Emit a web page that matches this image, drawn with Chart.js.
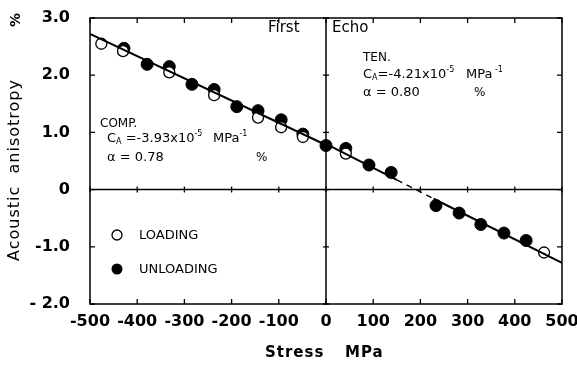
<!DOCTYPE html>
<html>
<head>
<meta charset="utf-8">
<script src="https://cdn.jsdelivr.net/npm/chart.js@4.4.1/dist/chart.umd.min.js"></script>
<style>
  html, body { margin: 0; padding: 0; background: #fff; }
  #wrap { width: 577px; height: 365px; position: relative; }
</style>
</head>
<body>
<div id="wrap"><canvas id="anisoChart"></canvas></div>
<script>
// values (stress in MPa, anisotropy in %)
const loadingStress = [-476, -430, -332, -237, -144, -95, -49, 42, 462];
const loadingAniso  = [2.55, 2.42, 2.05, 1.65, 1.26, 1.09, 0.92, 0.63, -1.10];

const unloadingStress = [-428, -379, -332, -284, -237, -189, -144, -95, -49, 0, 42, 91, 138, 233, 282, 328, 377, 424];
const unloadingAniso  = [2.47, 2.19, 2.15, 1.84, 1.75, 1.45, 1.38, 1.22, 0.97, 0.77, 0.72, 0.43, 0.30, -0.28, -0.41, -0.61, -0.76, -0.89];

// fitted lines
const compFitStress = [-500, 0];
const compFitAniso  = [2.72, 0.78];
const tenFitStress  = [0, 150];
const tenFitAniso   = [0.80, 0.17];
const tenDashStress = [150, 228];
const tenDashAniso  = [0.17, -0.16];
const tenFit2Stress = [228, 500];
const tenFit2Aniso  = [-0.16, -1.28];

const xTickValues = [-500, -400, -300, -200, -100, 0, 100, 200, 300, 400, 500];
const yTickValues = [3, 2, 1, 0, -1, -2];
const yTickLabels = ['3.0', '2.0', '1.0', '0', '-1.0', '- 2.0'];

const pts = (xs, ys) => xs.map((x, i) => ({ x: x, y: ys[i] }));

const FONT = '"DejaVu Sans", sans-serif';

function runs(ctx, x, y, parts) {
    parts.forEach(p => {
        if (p.at !== undefined) x = p.at;
        ctx.font = p.size + 'px ' + FONT;
        ctx.fillText(p.t, x, y + (p.dy || 0));
        x += ctx.measureText(p.t).width;
    });
}

const framePlugin = {
    id: 'frame',
    beforeDatasetsDraw(chart) {
        const { ctx, chartArea: a, scales: { x, y } } = chart;
        const x0 = x.getPixelForValue(0);
        const y0 = y.getPixelForValue(0);
        ctx.save();
        ctx.strokeStyle = '#000';
        ctx.lineWidth = 1.5;
        ctx.strokeRect(a.left, a.top, a.right - a.left, a.bottom - a.top);
        ctx.beginPath();
        ctx.moveTo(a.left, y0); ctx.lineTo(a.right, y0);
        ctx.moveTo(x0, a.top); ctx.lineTo(x0, a.bottom);
        ctx.stroke();

        const t = 5;
        ctx.lineWidth = 1.3;
        ctx.beginPath();
        xTickValues.forEach(v => {
            const px = x.getPixelForValue(v);
            ctx.moveTo(px, a.top); ctx.lineTo(px, a.top + t);
            ctx.moveTo(px, a.bottom); ctx.lineTo(px, a.bottom - t);
            ctx.moveTo(px, y0 - 3); ctx.lineTo(px, y0 + 3);
        });
        yTickValues.forEach(v => {
            const py = y.getPixelForValue(v);
            ctx.moveTo(a.left, py); ctx.lineTo(a.left + t, py);
            ctx.moveTo(a.right, py); ctx.lineTo(a.right - t, py);
            ctx.moveTo(x0 - 3, py); ctx.lineTo(x0 + 3, py);
        });
        ctx.stroke();
        ctx.restore();
    },
    afterDraw(chart) {
        const { ctx } = chart;
        ctx.save();
        ctx.fillStyle = '#000';
        ctx.textBaseline = 'middle';

        // axis titles
        ctx.textAlign = 'left';
        ctx.font = 'bold 15px ' + FONT;
        ctx.letterSpacing = '1px';
        ctx.fillText('Stress', 265, 353);
        ctx.fillText('MPa', 345, 353);
        ctx.textAlign = 'center';
        ctx.font = '16px ' + FONT;
        ctx.save();
        ctx.translate(15, 170);
        ctx.rotate(-Math.PI / 2);
        ctx.fillText('Acoustic  anisotropy', 0, 0);
        ctx.restore();
        ctx.letterSpacing = '0px';
        ctx.save();
        ctx.translate(16, 20);
        ctx.rotate(-Math.PI / 2);
        ctx.font = 'bold 14px ' + FONT;
        ctx.fillText('%', 0, 0);
        ctx.restore();

        ctx.textAlign = 'left';
        ctx.font = '15px ' + FONT;
        ctx.fillText('First', 268, 28);
        ctx.fillText('Echo', 332, 28);

        runs(ctx, 363, 58, [{ t: 'TEN.', size: 12 }]);
        runs(ctx, 363, 75, [
            { t: 'C', size: 13 }, { t: 'A', size: 8, dy: 3 },
            { t: '=-4.21x10', size: 13 }, { t: '-5', size: 8, dy: -5 },
            { t: 'MPa', size: 13, at: 466 }, { t: ' -1', size: 8, dy: -5 }
        ]);
        runs(ctx, 363, 93, [{ t: '\u03b1 = 0.80', size: 13 }, { t: '%', size: 12, at: 474 }]);

        runs(ctx, 100, 124, [{ t: 'COMP.', size: 12 }]);
        runs(ctx, 107, 139, [
            { t: 'C', size: 13 }, { t: 'A', size: 8, dy: 3 },
            { t: ' =-3.93x10', size: 13 }, { t: '-5', size: 8, dy: -5 },
            { t: 'MPa', size: 13, at: 213 }, { t: '-1', size: 8, dy: -5 }
        ]);
        runs(ctx, 107, 158, [{ t: '\u03b1 = 0.78', size: 13 }, { t: '%', size: 12, at: 256 }]);

        // legend
        ctx.lineWidth = 1.3;
        ctx.strokeStyle = '#000';
        ctx.beginPath();
        ctx.arc(117, 235, 5, 0, Math.PI * 2);
        ctx.fillStyle = '#fff';
        ctx.fill();
        ctx.stroke();
        ctx.beginPath();
        ctx.arc(117, 269, 5.5, 0, Math.PI * 2);
        ctx.fillStyle = '#000';
        ctx.fill();
        ctx.font = '13px ' + FONT;
        ctx.fillText('LOADING', 139, 236);
        ctx.fillText('UNLOADING', 139, 270);
        ctx.restore();
    }
};

const lineStyle = {
    showLine: true,
    borderColor: '#000',
    borderWidth: 2,
    pointRadius: 0,
    fill: false
};

const ctx = document.getElementById('anisoChart').getContext('2d');

new Chart(ctx, {
    type: 'scatter',
    data: {
        datasets: [
            Object.assign({ data: pts(compFitStress, compFitAniso) }, lineStyle),
            Object.assign({ data: pts(tenFitStress, tenFitAniso) }, lineStyle),
            Object.assign({ data: pts(tenDashStress, tenDashAniso) }, lineStyle, { borderDash: [6, 5], borderWidth: 1.5 }),
            Object.assign({ data: pts(tenFit2Stress, tenFit2Aniso) }, lineStyle),
            {
                label: 'LOADING',
                data: pts(loadingStress, loadingAniso),
                pointRadius: 5.5,
                pointBackgroundColor: '#fff',
                pointBorderColor: '#000',
                pointBorderWidth: 1.3
            },
            {
                label: 'UNLOADING',
                data: pts(unloadingStress, unloadingAniso),
                pointRadius: 6,
                pointBackgroundColor: '#000',
                pointBorderColor: '#000',
                pointBorderWidth: 1
            }
        ]
    },
    options: {
        responsive: true,
        maintainAspectRatio: false,
        animation: false,
        devicePixelRatio: 1,
        layout: { padding: { top: 18, right: 15, left: 0, bottom: 0 } },
        plugins: {
            legend: { display: false },
            tooltip: { enabled: false }
        },
        scales: {
            x: {
                type: 'linear',
                min: -500,
                max: 500,
                afterFit: s => { s.height = 61; s.paddingLeft = 0; s.paddingRight = 0; },
                afterBuildTicks: s => { s.ticks = xTickValues.map(v => ({ value: v })); },
                grid: { display: false },
                border: { display: false },
                ticks: {
                    color: '#000',
                    padding: 0,
                    maxRotation: 0,
                    font: { family: FONT, size: 16, weight: 'bold' },
                    callback: v => String(v)
                }
            },
            y: {
                min: -2,
                max: 3,
                afterFit: s => { s.width = 90; s.paddingTop = 0; s.paddingBottom = 0; },
                afterBuildTicks: s => { s.ticks = yTickValues.map(v => ({ value: v })); },
                grid: { display: false },
                border: { display: false },
                ticks: {
                    color: '#000',
                    padding: 12,
                    font: { family: FONT, size: 16, weight: 'bold' },
                    callback: v => yTickLabels[yTickValues.indexOf(v)]
                }
            }
        }
    },
    plugins: [framePlugin]
});
</script>
</body>
</html>
